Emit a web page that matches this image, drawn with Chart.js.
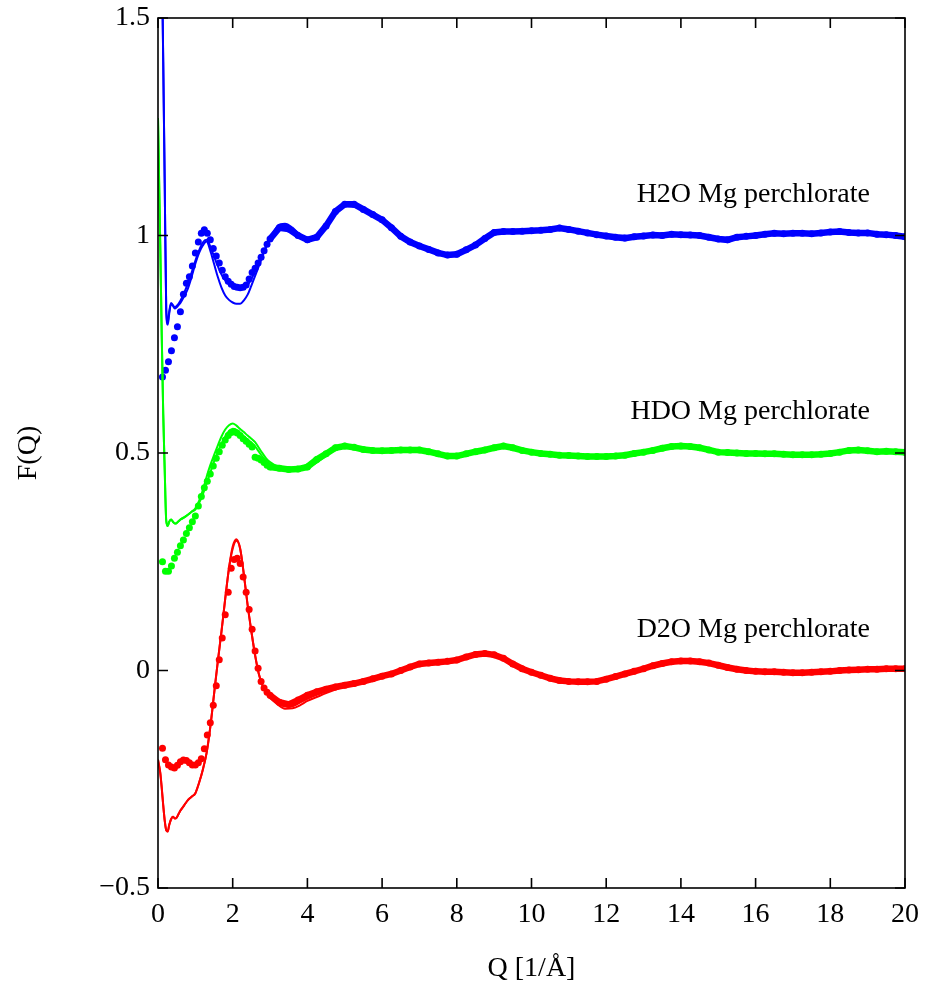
<!DOCTYPE html>
<html>
<head>
<meta charset="utf-8">
<script src="https://cdn.jsdelivr.net/npm/chart.js@4/dist/chart.umd.min.js"></script>
<style>
  html, body { margin: 0; padding: 0; background: #fff; }
  canvas { display: block; }
</style>
</head>
<body>
<canvas id="fqChart" width="929" height="987"></canvas>
<script>
// measured F(Q): sparse grid below 3, then every 0.25
const qMeasured = [
  0.12, 0.20, 0.28, 0.36, 0.44, 0.52, 0.60, 0.68, 0.76, 0.84, 0.92, 1.00,
  1.08, 1.16, 1.24, 1.32, 1.40, 1.48, 1.56, 1.64, 1.72, 1.80, 1.88, 1.96,
  2.04, 2.12, 2.20, 2.28, 2.36, 2.44, 2.52, 2.60, 2.68, 2.76, 2.84, 2.92,
  3.00, 3.25, 3.50, 3.75, 4.00, 4.25, 4.50, 4.75, 5.00, 5.25, 5.50, 5.75,
  6.00, 6.25, 6.50, 6.75, 7.00, 7.25, 7.50, 7.75, 8.00, 8.25, 8.50, 8.75,
  9.00, 9.25, 9.50, 9.75, 10.00, 10.25, 10.50, 10.75, 11.00, 11.25, 11.50, 11.75,
  12.00, 12.25, 12.50, 12.75, 13.00, 13.25, 13.50, 13.75, 14.00, 14.25, 14.50, 14.75,
  15.00, 15.25, 15.50, 15.75, 16.00, 16.25, 16.50, 16.75, 17.00, 17.25, 17.50, 17.75,
  18.00, 18.25, 18.50, 18.75, 19.00, 19.25, 19.50, 19.75, 20.00
];

const h2oMeasured = [
  0.675, 0.69, 0.71, 0.735, 0.765, 0.79, 0.825, 0.865, 0.89, 0.905, 0.93, 0.96,
  0.985, 1.005, 1.013, 1.005, 0.99, 0.97, 0.953, 0.937, 0.92, 0.905, 0.895, 0.888,
  0.883, 0.881, 0.88, 0.881, 0.886, 0.9, 0.915, 0.925, 0.937, 0.95, 0.965, 0.98,
  0.992, 1.018, 1.015, 1.0, 0.99, 0.996, 1.022, 1.055, 1.072, 1.072, 1.06, 1.048,
  1.036, 1.018, 0.998, 0.985, 0.976, 0.968, 0.96, 0.955, 0.957, 0.967, 0.978, 0.993,
  1.007, 1.009, 1.009, 1.01, 1.011, 1.012, 1.014, 1.017, 1.014, 1.01, 1.006, 1.002,
  0.999, 0.996, 0.994, 0.997, 0.999, 1.001, 1.0, 1.003, 1.002, 1.001, 1.0, 0.996,
  0.992, 0.99, 0.996, 0.998, 1.0, 1.003, 1.005, 1.004, 1.005, 1.005, 1.004, 1.006,
  1.008, 1.009, 1.007, 1.006, 1.006, 1.003, 1.002, 1.0, 0.997
];

const hdoMeasured = [
  0.25, 0.228, 0.228, 0.24, 0.258, 0.272, 0.287, 0.3, 0.315, 0.328, 0.342, 0.355,
  0.378, 0.4, 0.42, 0.435, 0.452, 0.47, 0.488, 0.503, 0.518, 0.53, 0.54, 0.547,
  0.549, 0.546, 0.54, 0.533, 0.527, 0.52, 0.514, 0.49, 0.488, 0.484, 0.478, 0.472,
  0.468, 0.465, 0.462, 0.463, 0.468, 0.485, 0.498, 0.512, 0.516, 0.513, 0.508, 0.506,
  0.505, 0.506, 0.507, 0.507, 0.507, 0.503, 0.498, 0.493, 0.493, 0.498, 0.503, 0.507,
  0.512, 0.516, 0.512, 0.506, 0.502, 0.499, 0.497, 0.495, 0.494, 0.493, 0.492, 0.492,
  0.492, 0.493, 0.495, 0.499, 0.502, 0.506, 0.511, 0.515, 0.516, 0.515, 0.512, 0.507,
  0.502, 0.501, 0.5, 0.499, 0.499, 0.498, 0.498, 0.497, 0.496, 0.496, 0.496, 0.497,
  0.499, 0.502, 0.506, 0.507, 0.505, 0.503, 0.504, 0.503, 0.502
];

const d2oMeasured = [
  -0.179, -0.205, -0.217, -0.222, -0.224, -0.218, -0.21, -0.206, -0.207, -0.212, -0.217, -0.217,
  -0.212, -0.203, -0.18, -0.148, -0.12, -0.08, -0.035, 0.025, 0.075, 0.128, 0.18, 0.235,
  0.255, 0.258, 0.246, 0.215, 0.18, 0.14, 0.095, 0.045, 0.005, -0.025, -0.04, -0.05,
  -0.057, -0.073, -0.078, -0.068, -0.057, -0.049, -0.043, -0.038, -0.034, -0.03, -0.025, -0.019,
  -0.013, -0.008, 0.0, 0.008, 0.015, 0.017, 0.019, 0.021, 0.024, 0.031, 0.037, 0.039,
  0.036, 0.028, 0.015, 0.004, -0.004, -0.011, -0.018, -0.023, -0.025, -0.026, -0.026, -0.025,
  -0.02, -0.014, -0.008, -0.002, 0.004, 0.011, 0.016, 0.02, 0.022, 0.022, 0.02, 0.017,
  0.012, 0.007, 0.003, 0.0, -0.002, -0.003, -0.003, -0.004, -0.005, -0.005, -0.004, -0.003,
  -0.002, 0.0, 0.001, 0.002, 0.003, 0.003, 0.004, 0.004, 0.004
];

// two model curves per sample
const qFit = [
  0.00, 0.06, 0.10, 0.14, 0.18, 0.22, 0.26, 0.30, 0.35, 0.40, 0.45, 0.50, 0.55, 0.60,
  0.70, 0.80, 0.90, 1.00, 1.10, 1.20, 1.30, 1.40, 1.50, 1.60, 1.70, 1.80, 1.90, 2.00,
  2.10, 2.20, 2.30, 2.40, 2.50, 2.60, 2.70, 2.80, 2.90, 3.00,
  3.20, 3.40, 3.60, 3.80, 4.00, 4.25, 4.50, 4.75, 5.00,
  5.50, 6.00, 6.50, 7.00, 7.50, 8.00, 8.50, 9.00, 9.50,
  10, 11, 12, 13, 14, 15, 16, 17, 18, 19, 20
];

const h2oFitA = [
  null, 1.95, 1.67, 1.40, 1.12, 0.83, 0.795, 0.82, 0.843, 0.838, 0.832, 0.835, 0.84, 0.845,
  0.86, 0.878, 0.905, 0.935, 0.96, 0.977, 0.986, 0.965, 0.935, 0.905, 0.88, 0.862, 0.852, 0.846,
  0.843, 0.843, 0.851, 0.864, 0.885, 0.907, 0.93, 0.953, 0.975, 0.992,
  1.022, 1.027, 1.018, 1.002, 0.993, 0.998, 1.022, 1.052, 1.07,
  1.06, 1.036, 0.998, 0.976, 0.96, 0.957, 0.978, 1.007, 1.009,
  1.011, 1.014, 0.999, 0.999, 1.002, 0.992, 1.0, 1.005, 1.008, 1.006, 0.997
];

const h2oFitB = [
  null, 1.95, 1.67, 1.40, 1.12, 0.83, 0.80, 0.825, 0.845, 0.84, 0.835, 0.838, 0.843, 0.85,
  0.868, 0.89, 0.915, 0.942, 0.966, 0.984, 0.99, 0.975, 0.952, 0.93, 0.91, 0.897, 0.888, 0.882,
  0.879, 0.877, 0.878, 0.886, 0.9, 0.918, 0.937, 0.956, 0.975, 0.99,
  1.017, 1.024, 1.015, 1.0, 0.991, 0.996, 1.02, 1.05, 1.068,
  1.06, 1.035, 0.998, 0.976, 0.96, 0.957, 0.978, 1.006, 1.009,
  1.011, 1.014, 0.999, 0.999, 1.002, 0.992, 1.0, 1.005, 1.008, 1.006, 0.997
];

const hdoFitA = [
  1.27, 0.98, 0.77, 0.59, 0.46, 0.345, 0.332, 0.342, 0.347, 0.342, 0.338, 0.339, 0.343, 0.347,
  0.352, 0.358, 0.365, 0.373, 0.39, 0.415, 0.445, 0.472, 0.495, 0.517, 0.538, 0.554, 0.564, 0.568,
  0.563, 0.555, 0.548, 0.54, 0.533, 0.525, 0.512, 0.499, 0.487, 0.479,
  0.469, 0.464, 0.461, 0.463, 0.47, 0.487, 0.502, 0.515, 0.517,
  0.51, 0.506, 0.507, 0.507, 0.498, 0.493, 0.503, 0.512, 0.512,
  0.502, 0.494, 0.492, 0.502, 0.516, 0.502, 0.499, 0.496, 0.499, 0.505, 0.502
];

const hdoFitB = [
  1.27, 0.98, 0.77, 0.59, 0.46, 0.345, 0.332, 0.342, 0.347, 0.342, 0.338, 0.339, 0.343, 0.347,
  0.352, 0.358, 0.365, 0.37, 0.385, 0.405, 0.43, 0.455, 0.48, 0.502, 0.522, 0.538, 0.55, 0.556,
  0.553, 0.546, 0.538, 0.531, 0.524, 0.515, 0.503, 0.491, 0.481, 0.474,
  0.466, 0.462, 0.46, 0.461, 0.466, 0.478, 0.493, 0.507, 0.514,
  0.509, 0.505, 0.507, 0.507, 0.498, 0.493, 0.503, 0.512, 0.512,
  0.502, 0.494, 0.492, 0.502, 0.516, 0.502, 0.499, 0.496, 0.499, 0.505, 0.502
];

const d2oFitA = [
  -0.205, -0.235, -0.27, -0.31, -0.345, -0.367, -0.37, -0.355, -0.342, -0.336, -0.34, -0.338, -0.33, -0.322,
  -0.31, -0.298, -0.29, -0.282, -0.258, -0.228, -0.19, -0.13, -0.055, 0.02, 0.09, 0.165, 0.235, 0.285,
  0.302, 0.28, 0.22, 0.15, 0.09, 0.035, -0.008, -0.035, -0.05, -0.062,
  -0.078, -0.088, -0.087, -0.08, -0.07, -0.061, -0.052, -0.044, -0.037,
  -0.026, -0.014, 0.0, 0.015, 0.019, 0.024, 0.037, 0.036, 0.015,
  -0.004, -0.025, -0.02, 0.004, 0.022, 0.012, -0.002, -0.005, -0.002, 0.003, 0.004
];

const d2oFitB = [
  -0.205, -0.235, -0.27, -0.31, -0.345, -0.367, -0.37, -0.355, -0.342, -0.336, -0.34, -0.338, -0.33, -0.322,
  -0.31, -0.298, -0.29, -0.282, -0.258, -0.228, -0.19, -0.13, -0.055, 0.02, 0.09, 0.165, 0.235, 0.28,
  0.298, 0.28, 0.22, 0.15, 0.09, 0.035, -0.008, -0.035, -0.05, -0.062,
  -0.075, -0.083, -0.082, -0.074, -0.065, -0.056, -0.048, -0.041, -0.035,
  -0.026, -0.014, 0.0, 0.015, 0.019, 0.024, 0.037, 0.036, 0.015,
  -0.004, -0.025, -0.02, 0.004, 0.022, 0.012, -0.002, -0.005, -0.002, 0.003, 0.004
];

const sampleNames = ['H2O Mg perchlorate', 'HDO Mg perchlorate', 'D2O Mg perchlorate'];
const xTicks = [0, 2, 4, 6, 8, 10, 12, 14, 16, 18, 20];
const yTicks = [-0.5, 0, 0.5, 1, 1.5];

const BLUE = '#0000ff', GREEN = '#00ff00', RED = '#ff0000';
const FONT = { family: '"Liberation Serif", "Times New Roman", serif', size: 28 };

const pts = (qs, fs) => qs.map((q, i) => ({ x: q, y: fs[i] }));

// dots for the measurement; joined into a thick band once the points get dense
function measured(values, color) {
  return {
    data: pts(qMeasured, values),
    showLine: true,
    borderColor: color,
    borderWidth: 6.5,
    pointRadius: 3.5,
    pointBorderWidth: 0,
    pointBackgroundColor: color,
    segment: {
      borderColor: ctx => ctx.p0.parsed.x < 2.95 ? 'rgba(0,0,0,0)' : color
    },
    order: 2,
    clip: 0
  };
}

function model(values, color) {
  return {
    data: pts(qFit, values),
    showLine: true,
    borderColor: color,
    borderWidth: 2,
    pointRadius: 0,
    cubicInterpolationMode: 'monotone',
    order: 1,
    clip: 0
  };
}

// box with inward ticks on all four sides, plus the sample labels
const frameTicks = {
  id: 'frameTicks',
  afterDraw(chart, args, opts) {
    const { ctx, chartArea: a, scales: { x, y } } = chart;
    ctx.save();
    ctx.strokeStyle = '#000';
    ctx.lineWidth = 1.6;
    ctx.strokeRect(a.left, a.top, a.right - a.left, a.bottom - a.top);
    ctx.beginPath();
    xTicks.forEach(v => {
      const px = x.getPixelForValue(v);
      ctx.moveTo(px, a.bottom); ctx.lineTo(px, a.bottom - opts.len);
      ctx.moveTo(px, a.top); ctx.lineTo(px, a.top + opts.len);
    });
    yTicks.forEach(v => {
      const py = y.getPixelForValue(v);
      ctx.moveTo(a.left, py); ctx.lineTo(a.left + opts.len, py);
      ctx.moveTo(a.right, py); ctx.lineTo(a.right - opts.len, py);
    });
    ctx.stroke();

    ctx.fillStyle = '#000';
    ctx.font = `${FONT.size}px ${FONT.family}`;
    ctx.textAlign = 'right';
    ctx.textBaseline = 'alphabetic';
    sampleNames.forEach((name, i) => {
      const p = opts.labelAt[i];
      ctx.fillText(name, x.getPixelForValue(p[0]), y.getPixelForValue(p[1]));
    });
    ctx.restore();
  }
};

new Chart(document.getElementById('fqChart'), {
  type: 'scatter',
  data: {
    datasets: [
      model(h2oFitA, BLUE), model(h2oFitB, BLUE),
      model(hdoFitA, GREEN), model(hdoFitB, GREEN),
      model(d2oFitA, RED), model(d2oFitB, RED),
      measured(h2oMeasured, BLUE),
      measured(hdoMeasured, GREEN),
      measured(d2oMeasured, RED)
    ]
  },
  options: {
    responsive: false,
    animation: false,
    devicePixelRatio: 1,
    layout: { padding: { top: 18, right: 24, left: 0, bottom: 0 } },
    plugins: {
      legend: { display: false },
      tooltip: { enabled: false },
      frameTicks: {
        len: 10,
        labelAt: [[19.06, 1.078], [19.06, 0.578], [19.06, 0.078]]
      }
    },
    scales: {
      x: {
        type: 'linear',
        min: 0,
        max: 20,
        afterBuildTicks: s => { s.ticks = xTicks.map(v => ({ value: v })); },
        afterFit: s => { s.height = 99; },
        ticks: { font: FONT, color: '#000', padding: 10, maxRotation: 0 },
        grid: { display: false, drawTicks: false },
        border: { display: false },
        title: { display: true, text: 'Q [1/Å]', font: FONT, color: '#000', padding: { top: 0, bottom: 2 } }
      },
      y: {
        min: -0.5,
        max: 1.5,
        afterBuildTicks: s => { s.ticks = yTicks.map(v => ({ value: v })); },
        afterFit: s => { s.width = 158; s.paddingTop = 0; s.paddingBottom = 0; },
        ticks: {
          font: FONT,
          color: '#000',
          padding: 8,
          callback: v => String(v).replace('-', '\u2212')
        },
        grid: { display: false, drawTicks: false },
        border: { display: false },
        title: { display: true, text: 'F(Q)', font: FONT, color: '#000', padding: { top: 12, bottom: 0 } }
      }
    }
  },
  plugins: [frameTicks]
});
</script>
</body>
</html>
